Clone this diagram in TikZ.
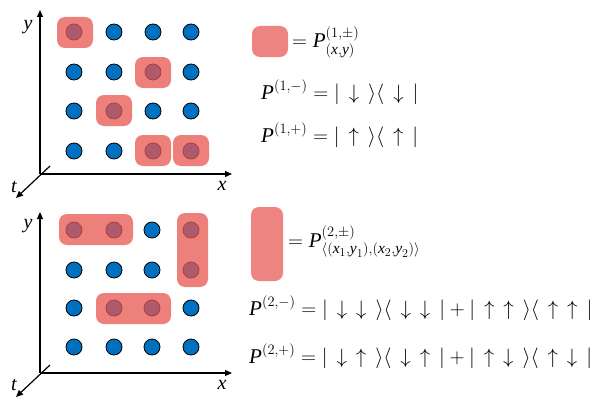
\documentclass[tikz,border=0pt]{standalone}
\usepackage{amsmath}
\usepackage{fontspec}
\setmainfont{Liberation Serif}
\usetikzlibrary{arrows.meta}
\DeclareMathSizes{21}{21}{15.5}{11.5}
\definecolor{dotblue}{RGB}{0,112,192}
\definecolor{boxred}{RGB}{232,85,80}
\newcommand{\mi}[1]{\text{\normalfont\itshape #1}}
\newcommand{\gp}{\mskip 7.8mu}
\newcommand{\dn}{{\downarrow}}
\newcommand{\upa}{{\uparrow}}
\tikzset{
  dot/.style={circle,minimum size=16pt,inner sep=0pt,fill=dotblue,draw=black,line width=0.8pt},
  hl/.style={fill=boxred,fill opacity=0.75,draw=none,rounded corners=8pt},
  legbox/.style={fill=boxred,fill opacity=0.72,draw=none,rounded corners=8pt},
  axis/.style={line width=1.2pt,-{Triangle[length=7pt,width=6pt]}},
  lbl/.style={font=\fontsize{20}{24}\selectfont\itshape,inner sep=0pt},
  eq/.style={font=\fontsize{21}{25}\selectfont,inner sep=0pt,anchor=base west}
}
\begin{document}
\begin{tikzpicture}[x=1pt,y=-1pt]
\useasboundingbox (0,0) rectangle (601,396);
% ---------- top panel ----------
\foreach \r/\yy in {1/32,2/72,3/111,4/151}{
  \foreach \c/\xx in {1/74,2/114,3/153,4/191}{
    \node[dot] (a\r\c) at (\xx,\yy) {};
  }
}
\coordinate (ao) at (40,174);
\coordinate (ay) at (40,10);
\coordinate (ax) at (232,174);
\coordinate (at) at (16,198);
\coordinate (atb) at (50,166);
\draw[axis] (ao) -- (ay);
\draw[axis] (ao) -- (ax);
\draw[axis] (atb) -- (at);
\node[lbl] (ly1) at (28,27) {y};
\node[lbl] (lx1) at (222,186) {x};
\node[lbl] (lt1) at (14,187) {t};
\fill[hl] (57,17) rectangle (93,48);
\fill[hl] (135,57) rectangle (171,88);
\fill[hl] (96,95) rectangle (132,126);
\fill[hl] (135,135) rectangle (171,166);
\fill[hl] (173,135) rectangle (209,166);
% ---------- bottom panel ----------
\foreach \r/\yy in {1/230,2/270,3/308,4/347}{
  \foreach \c/\xx in {1/74,2/114,3/152,4/191}{
    \node[dot] (b\r\c) at (\xx,\yy) {};
  }
}
\coordinate (bo) at (40,373);
\coordinate (by) at (40,212);
\coordinate (bx) at (232,373);
\coordinate (bt) at (16,397);
\coordinate (btb) at (50,365);
\draw[axis] (bo) -- (by);
\draw[axis] (bo) -- (bx);
\draw[axis] (btb) -- (bt);
\node[lbl] (ly2) at (28,226) {y};
\node[lbl] (lx2) at (222,385) {x};
\node[lbl] (lt2) at (14,385) {t};
\fill[hl] (59,214) rectangle (133,245);
\fill[hl] (177,213) rectangle (208,287);
\fill[hl] (96,293) rectangle (171,324);
% ---------- top formulas ----------
\fill[legbox] (252,26) rectangle (288,57);
\node[eq] (e1) at (292,48) {$=\mi{P}^{(1,\pm)}_{(\mi{x},\mi{y})}$};
\node[eq] (e2) at (261,99) {$\mi{P}^{(1,-)}=|\gp\dn\gp\rangle\langle\gp\dn\gp|$};
\node[eq] (e3) at (261,142) {$\mi{P}^{(1,+)}=|\gp\upa\gp\rangle\langle\gp\upa\gp|$};
% ---------- bottom formulas ----------
\fill[legbox] (251,207) rectangle (283,281);
\node[eq] (f1) at (288,247) {$=\mi{P}^{(2,\pm)}_{\langle(\mi{x}_1,\mi{y}_1),(\mi{x}_2,\mi{y}_2)\rangle}$};
\node[eq] (f2) at (249,315) {$\mi{P}^{(2,-)}=|\gp\dn\gp\dn\gp\rangle\langle\gp\dn\gp\dn\gp|+|\gp\upa\gp\upa\gp\rangle\langle\gp\upa\gp\upa\gp|$};
\node[eq] (f3) at (249,363) {$\mi{P}^{(2,+)}=|\gp\dn\gp\upa\gp\rangle\langle\gp\dn\gp\upa\gp|+|\gp\upa\gp\dn\gp\rangle\langle\gp\upa\gp\dn\gp|$};
\end{tikzpicture}
\end{document}
